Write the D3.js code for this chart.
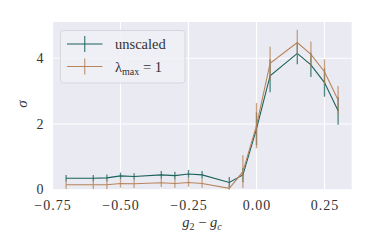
<!DOCTYPE html>
<html><head><meta charset="utf-8">
<script src="https://cdn.jsdelivr.net/npm/d3@7"></script>
<style>html,body{margin:0;padding:0;background:#fff;}svg{display:block;}</style>
</head><body>
<svg id="c" width="374" height="249"></svg>
<script>
const xValues = [-0.7, -0.6, -0.55, -0.5, -0.45, -0.35, -0.3, -0.25, -0.2, -0.1, -0.05, 0.0, 0.05, 0.15, 0.2, 0.25, 0.3];
const unscaled = [0.35, 0.35, 0.36, 0.42, 0.40, 0.45, 0.43, 0.48, 0.45, 0.22, 0.45, 1.85, 3.47, 4.15, 3.80, 3.26, 2.40];
const unscaledErr = [0.1, 0.1, 0.1, 0.1, 0.1, 0.12, 0.12, 0.12, 0.12, 0.17, 0.22, 0.5, 0.5, 0.33, 0.37, 0.43, 0.42];
const scaled = [0.15, 0.15, 0.15, 0.19, 0.18, 0.21, 0.19, 0.22, 0.19, 0.04, 0.55, 1.95, 3.85, 4.48, 4.12, 3.59, 2.73];
const scaledErr = [0.13, 0.13, 0.13, 0.13, 0.13, 0.13, 0.13, 0.13, 0.13, 0.1, 0.5, 0.69, 0.5, 0.39, 0.39, 0.38, 0.43];
const xTicks = [-0.75, -0.5, -0.25, 0, 0.25];
const yTicks = [0, 2, 4];

const svg = d3.select("#c");
const L = 52.5, R = 351.7, T = 22, B = 189.7;
const x = d3.scaleLinear().domain([-0.75, 0.35]).range([L, R]);
const y = d3.scaleLinear().domain([0, 5.105]).range([B, T]);
const font = "'Liberation Serif', 'DejaVu Serif', serif";
const green = "#1a6259", orange = "#b8845a";

svg.append("defs").append("clipPath").attr("id","clip").append("rect")
  .attr("x", L).attr("y", T).attr("width", R-L).attr("height", B-T);

svg.append("rect").attr("x", L).attr("y", T).attr("width", R-L).attr("height", B-T).attr("fill", "#eaeaf2");

const grid = svg.append("g");
grid.selectAll(".gx").data(xTicks).join("line")
  .attr("x1", d=>x(d)).attr("x2", d=>x(d)).attr("y1", T).attr("y2", B)
  .attr("stroke", "#fff").attr("stroke-width", 1.1);
grid.selectAll(".gy").data(yTicks).join("line")
  .attr("y1", d=>y(d)).attr("y2", d=>y(d)).attr("x1", L).attr("x2", R)
  .attr("stroke", "#fff").attr("stroke-width", 1.1);

const xAxis = svg.append("g").attr("transform", `translate(0,${B})`)
  .call(d3.axisBottom(x).tickValues(xTicks).tickSize(0).tickPadding(10.3)
    .tickFormat(d => d3.format(".2f")(d).replace("-", "\u2212")));
xAxis.select(".domain").remove();
xAxis.selectAll("text").attr("font-family", font).attr("font-size", 14).attr("fill", "#333")
  .attr("letter-spacing", 1);

const yAxis = svg.append("g").attr("transform", `translate(${L},0)`)
  .call(d3.axisLeft(y).tickValues(yTicks).tickSize(0).tickPadding(9).tickFormat(d3.format("d")));
yAxis.select(".domain").remove();
yAxis.selectAll("text").attr("font-family", font).attr("font-size", 14).attr("fill", "#333").attr("dy", "0.3em");

const plot = svg.append("g").attr("clip-path", "url(#clip)");
function series(vals, errs, color) {
  const pts = xValues.map((xv, i) => ({x: xv, y: vals[i], e: errs[i]}));
  plot.append("g").selectAll("line").data(pts).join("line")
    .attr("x1", d=>x(d.x)).attr("x2", d=>x(d.x))
    .attr("y1", d=>y(d.y - d.e)).attr("y2", d=>y(d.y + d.e))
    .attr("stroke", color).attr("stroke-width", 1.3).attr("opacity", 0.75);
  plot.append("path").datum(pts)
    .attr("d", d3.line().x(d=>x(d.x)).y(d=>y(d.y)))
    .attr("fill", "none").attr("stroke", color).attr("stroke-width", 1.1);
}
series(unscaled, unscaledErr, green);
series(scaled, scaledErr, orange);

// legend
const lg = svg.append("g");
lg.append("rect").attr("x", 60.5).attr("y", 30.5).attr("width", 124.5).attr("height", 52.5)
  .attr("rx", 3).attr("fill", "#f0f0f6").attr("fill-opacity", 0.9).attr("stroke", "#d6d6dd");
const items = [{c: green, y: 44}, {c: orange, y: 66.5}];
items.forEach(it => {
  lg.append("line").attr("x1", 67).attr("x2", 102.5).attr("y1", it.y).attr("y2", it.y).attr("stroke", it.c).attr("stroke-width", 1.1);
  lg.append("line").attr("x1", 84.7).attr("x2", 84.7).attr("y1", it.y-8).attr("y2", it.y+8).attr("stroke", it.c).attr("stroke-width", 1.3).attr("opacity", 0.75);
});
lg.append("text").attr("x", 115).attr("y", 49).attr("font-family", font).attr("font-size", 14.5).attr("fill", "#333").text("unscaled");
const t2 = lg.append("text").attr("x", 115).attr("y", 72).attr("font-family", font).attr("font-size", 14.5).attr("fill", "#333");
t2.append("tspan").text("\u03bb");
t2.append("tspan").attr("font-size", 10).attr("dy", 3).text("max");
t2.append("tspan").attr("dy", -3).text(" = 1");

// axis labels
const xl = svg.append("text").attr("x", 202).attr("y", 227).attr("text-anchor", "middle")
  .attr("font-family", font).attr("font-size", 14.5).attr("fill", "#333");
xl.append("tspan").attr("font-style", "italic").text("g");
xl.append("tspan").attr("font-size", 10).attr("dy", 3).text("2");
xl.append("tspan").attr("dy", -3).text(" \u2212 ");
xl.append("tspan").attr("font-style", "italic").text("g");
xl.append("tspan").attr("font-size", 10).attr("dy", 3).attr("font-style", "italic").text("c");

svg.append("text").attr("transform", "translate(27,104) rotate(-90)").attr("text-anchor", "middle")
  .attr("font-family", font).attr("font-size", 15).attr("font-style", "italic").attr("fill", "#333").text("\u03c3");
</script>
</body></html>
